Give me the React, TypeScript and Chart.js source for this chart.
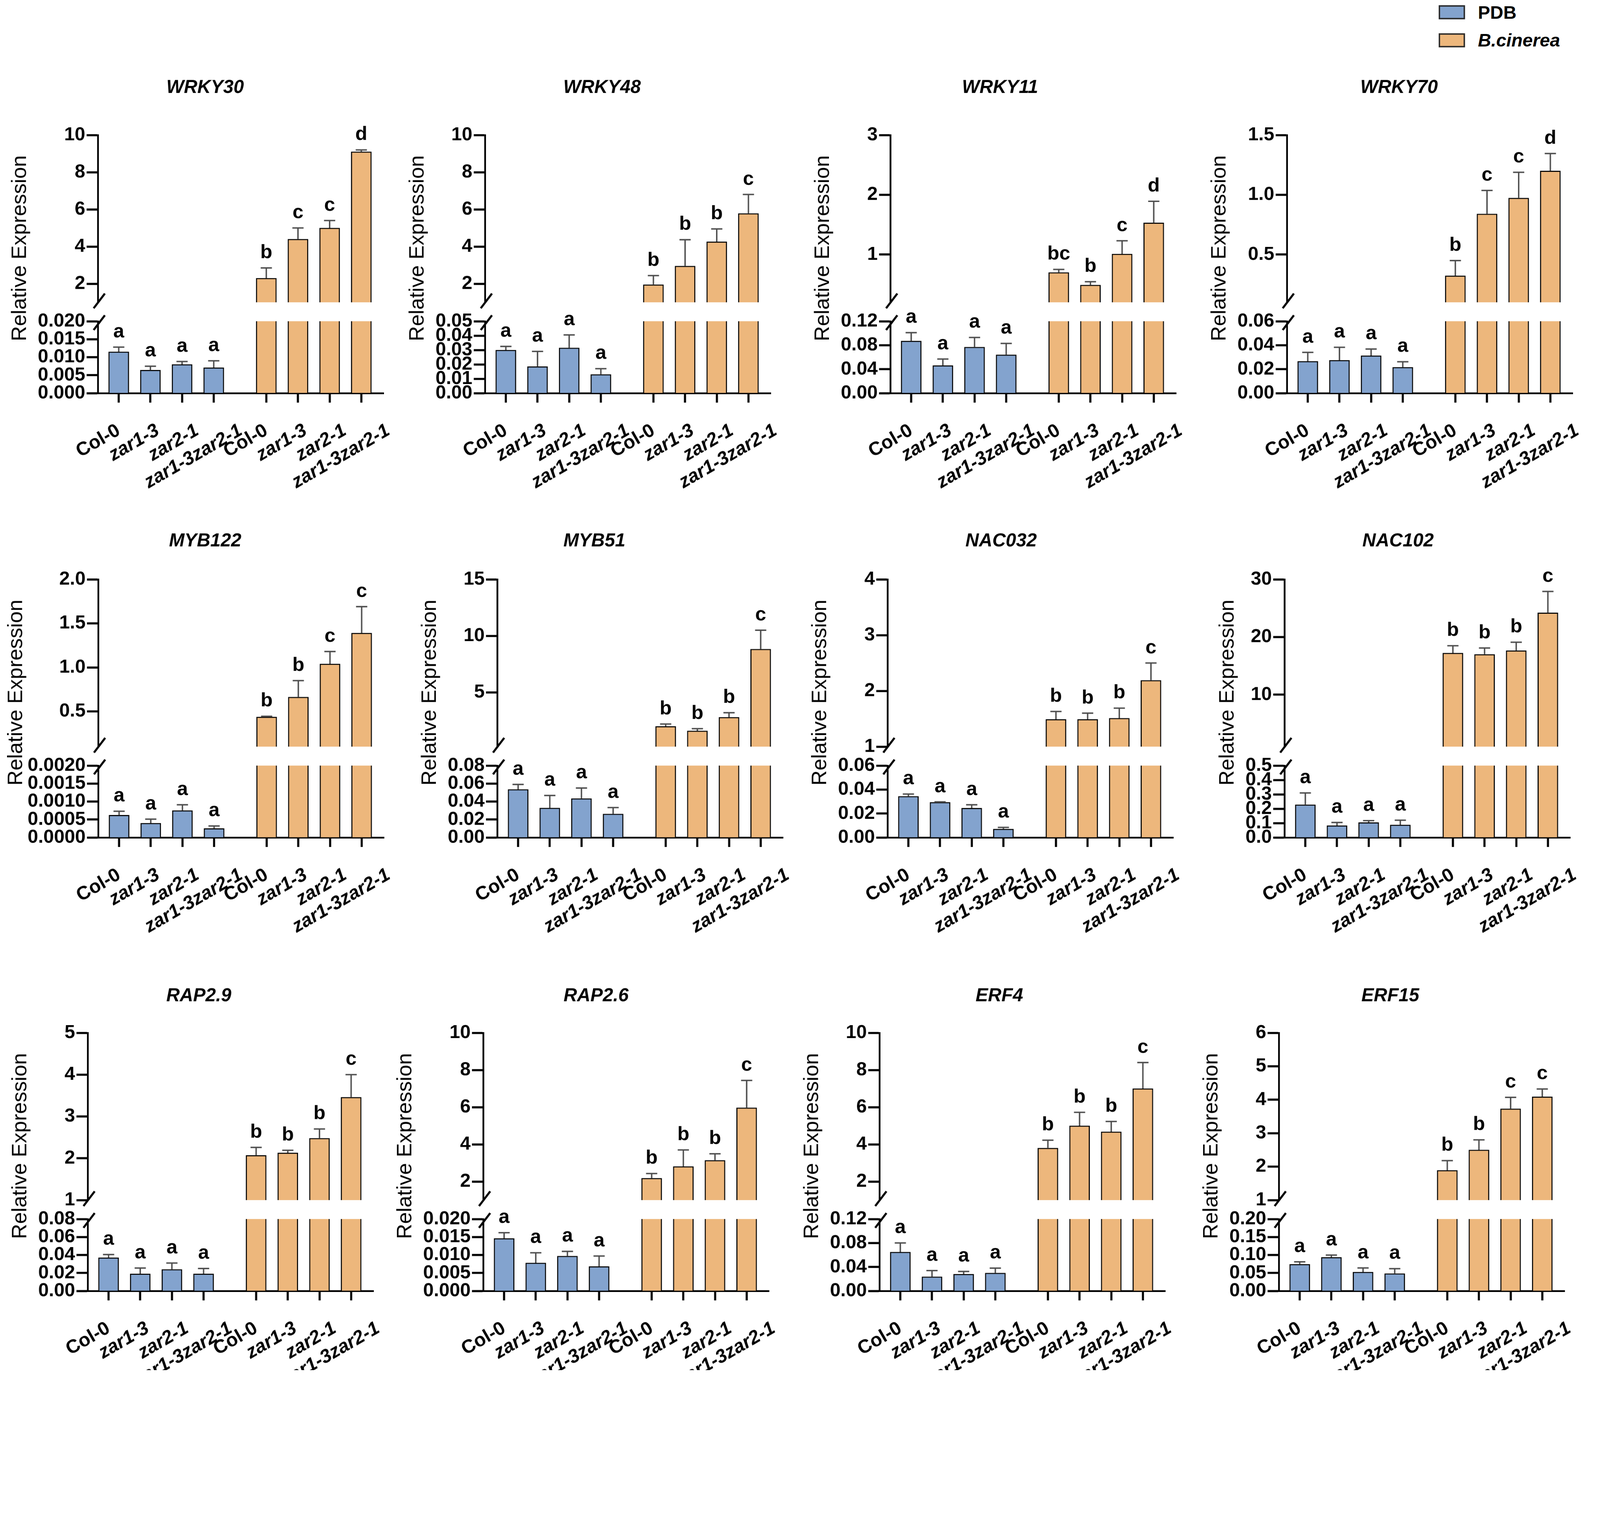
import React, { useEffect, useRef } from "react";
import { Chart, registerables } from "chart.js";

Chart.register(...registerables);

const FONT = '"Liberation Sans", Arial, Helvetica, sans-serif';

// ---------------- DATA ----------------
const GENES = ["WRKY30", "WRKY48", "WRKY11", "WRKY70", "MYB122", "MYB51", "NAC032", "NAC102", "RAP2.9", "RAP2.6", "ERF4", "ERF15"];
const CATEGORIES = ["Col-0", "zar1-3", "zar2-1", "zar1-3zar2-1"];
const SERIES = ["PDB", "B.cinerea"];

const PDB_MEAN = [
  [0.0115, 0.0064, 0.008, 0.0071],
  [0.03, 0.0185, 0.0315, 0.013],
  [0.087, 0.046, 0.077, 0.064],
  [0.0266, 0.0275, 0.0313, 0.0216],
  [0.00062, 0.0004, 0.00075, 0.00025],
  [0.0535, 0.0328, 0.0434, 0.0262],
  [0.0344, 0.0294, 0.0245, 0.0071],
  [0.228, 0.0825, 0.104, 0.0875],
  [0.037, 0.019, 0.024, 0.019],
  [0.0146, 0.0078, 0.0097, 0.0068],
  [0.065, 0.0237, 0.028, 0.03],
  [0.0743, 0.0935, 0.0526, 0.0483],
];
const PDB_SD = [
  [0.0013, 0.0011, 0.0008, 0.0019],
  [0.0025, 0.0105, 0.009, 0.004],
  [0.014, 0.011, 0.016, 0.019],
  [0.0074, 0.0108, 0.0055, 0.0046],
  [0.00011, 0.00011, 0.00016, 0.00007],
  [0.0055, 0.0139, 0.0116, 0.0071],
  [0.0018, 0.0003, 0.0028, 0.0013],
  [0.082, 0.0215, 0.013, 0.0325],
  [0.0035, 0.0065, 0.007, 0.006],
  [0.0016, 0.0028, 0.0013, 0.0029],
  [0.015, 0.0103, 0.0045, 0.008],
  [0.0067, 0.0062, 0.0112, 0.0137],
];
const BC_MEAN = [
  [2.3, 4.4, 5.0, 9.1],
  [1.95, 2.95, 4.26, 5.78],
  [0.7, 0.49, 1.01, 1.53],
  [0.322, 0.84, 0.973, 1.2],
  [0.437, 0.663, 1.04, 1.39],
  [2.0, 1.6, 2.8, 8.83],
  [1.49, 1.49, 1.51, 2.19],
  [17.23, 17.0, 17.65, 24.2],
  [2.07, 2.13, 2.48, 3.46],
  [2.18, 2.81, 3.14, 5.97],
  [3.8, 5.0, 4.68, 7.0],
  [1.89, 2.5, 3.73, 4.09],
];
const BC_SD = [
  [0.55, 0.6, 0.4, 0.1],
  [0.49, 1.42, 0.69, 1.02],
  [0.05, 0.055, 0.22, 0.36],
  [0.127, 0.196, 0.215, 0.145],
  [0.008, 0.187, 0.14, 0.3],
  [0.2, 0.19, 0.4, 1.67],
  [0.14, 0.11, 0.18, 0.31],
  [1.27, 1.1, 1.45, 3.7],
  [0.19, 0.06, 0.22, 0.54],
  [0.25, 0.89, 0.35, 1.47],
  [0.42, 0.72, 0.55, 1.4],
  [0.29, 0.3, 0.34, 0.23],
];
const PDB_LETTERS = [
  ["a", "a", "a", "a"], ["a", "a", "a", "a"], ["a", "a", "a", "a"], ["a", "a", "a", "a"],
  ["a", "a", "a", "a"], ["a", "a", "a", "a"], ["a", "a", "a", "a"], ["a", "a", "a", "a"],
  ["a", "a", "a", "a"], ["a", "a", "a", "a"], ["a", "a", "a", "a"], ["a", "a", "a", "a"],
];
const BC_LETTERS = [
  ["b", "c", "c", "d"],
  ["b", "b", "b", "c"],
  ["bc", "b", "c", "d"],
  ["b", "c", "c", "d"],
  ["b", "b", "c", "c"],
  ["b", "b", "b", "c"],
  ["b", "b", "b", "c"],
  ["b", "b", "b", "c"],
  ["b", "b", "b", "c"],
  ["b", "b", "b", "c"],
  ["b", "b", "b", "c"],
  ["b", "b", "c", "c"],
];
const UPPER_TICKS = [
  ["2", "4", "6", "8", "10"],
  ["2", "4", "6", "8", "10"],
  ["1", "2", "3"],
  ["0.5", "1.0", "1.5"],
  ["0.5", "1.0", "1.5", "2.0"],
  ["5", "10", "15"],
  ["1", "2", "3", "4"],
  ["10", "20", "30"],
  ["1", "2", "3", "4", "5"],
  ["2", "4", "6", "8", "10"],
  ["2", "4", "6", "8", "10"],
  ["1", "2", "3", "4", "5", "6"],
];
const UPPER_MIN = [1, 1, 0.2, 0.1, 0.1, 0.2, 1, 1, 1, 1, 1, 1];
const LOWER_TICKS = [
  ["0.000", "0.005", "0.010", "0.015", "0.020"],
  ["0.00", "0.01", "0.02", "0.03", "0.04", "0.05"],
  ["0.00", "0.04", "0.08", "0.12"],
  ["0.00", "0.02", "0.04", "0.06"],
  ["0.0000", "0.0005", "0.0010", "0.0015", "0.0020"],
  ["0.00", "0.02", "0.04", "0.06", "0.08"],
  ["0.00", "0.02", "0.04", "0.06"],
  ["0.0", "0.1", "0.2", "0.3", "0.4", "0.5"],
  ["0.00", "0.02", "0.04", "0.06", "0.08"],
  ["0.000", "0.005", "0.010", "0.015", "0.020"],
  ["0.00", "0.04", "0.08", "0.12"],
  ["0.00", "0.05", "0.10", "0.15", "0.20"],
];

// ---------------- LAYOUT / STYLE ----------------
const PAGE_W = 4563;
const PAGE_H = 3906;
const BLUE = "#83A3CE";
const ORANGE = "#EDB77C";
const ERR_COLOR = "#4d4d4d";
const AXIS_X = [
  [279, 1383, 2539, 3670],
  [280, 1418, 2531, 3663],
  [250, 1378, 2508, 3647],
];
const TITLE_X = [
  [585, 1717, 2852, 3990],
  [585, 1695, 2855, 3987],
  [567, 1700, 2850, 3965],
];
const ROW_PLOT_TOP = [385, 1652, 2945];
const ROW_TITLE_Y = [250, 1543, 2840];
const PLOT_W = 845;
const PLOT_H = 736;
const W_UPPER = 477;
const W_GAP = 54;
const W_LOWER = 205;
const Y_W = 300;
const X_H = 300;
const X_TICK_H = 30;
const RIGHT_PAD = 60;
const TITLE_PAD = 60;
const GROUP_GAP = 0.66;
const X_MIN = -0.66;
const X_MAX = 8.37;
const BAR_W = 58;
const LEGEND_TOP = [15, 95];
const TICK_FONT = 54;
const LABEL_SHIFT = [0, 22, 45, 80];

function pageScale() {
  if (typeof window === "undefined" || !window.innerWidth) return 1;
  return Math.min(window.innerWidth / PAGE_W, 1);
}

function xPos(group: number, i: number) {
  return group * (CATEGORIES.length + GROUP_GAP) + i;
}

function geom(idx: number) {
  const r = Math.floor(idx / 4);
  const c = idx % 4;
  const top = ROW_TITLE_Y[r] - TITLE_PAD;
  const topPad = ROW_PLOT_TOP[r] - top;
  const left = AXIS_X[r][c] - Y_W;
  const width = Y_W + PLOT_W + RIGHT_PAD;
  const height = topPad + PLOT_H + X_H;
  const titleX = TITLE_X[r][c] - left;
  return { left, top, width, height, topPad, titleX };
}

const clipPlugin = {
  id: "segmentClip",
  beforeDatasetDraw(chart: any, args: any) {
    const ys = args.meta.yScale;
    const ca = chart.chartArea;
    const ctx = chart.ctx;
    ctx.save();
    ctx.beginPath();
    ctx.rect(ca.left - 20, ys.top, ca.width + 40, ys.bottom - ys.top);
    ctx.clip();
  },
  afterDatasetDraw(chart: any) {
    chart.ctx.restore();
  },
};

function makeDecor(idx: number, titleX: number) {
  return {
    id: "decor",
    afterDraw(chart: any) {
      const ctx = chart.ctx;
      const ca = chart.chartArea;
      const yHigh = chart.scales.yHigh;
      const yLow = chart.scales.yLow;

      // error bars + significance letters
      chart.data.datasets.forEach((ds: any, di: number) => {
        if (!ds.errors) return;
        const meta = chart.getDatasetMeta(di);
        const ys = chart.scales[ds.yAxisID];
        meta.data.forEach((el: any, i: number) => {
          const v = ds.data[i].y;
          const e = ds.errors[i];
          const yTop = ys.getPixelForValue(v);
          const yErr = ys.getPixelForValue(v + e);
          ctx.save();
          ctx.strokeStyle = ERR_COLOR;
          ctx.lineWidth = 4;
          ctx.beginPath();
          ctx.moveTo(el.x, yTop);
          ctx.lineTo(el.x, yErr);
          ctx.moveTo(el.x - 16, yErr);
          ctx.lineTo(el.x + 16, yErr);
          ctx.stroke();
          ctx.fillStyle = "#000";
          ctx.font = `bold 56px ${FONT}`;
          ctx.textAlign = "center";
          ctx.textBaseline = "alphabetic";
          ctx.fillText(ds.letters[i], el.x, yErr - 28);
          ctx.restore();
        });
      });

      // axis break marks
      ctx.save();
      ctx.strokeStyle = "#000";
      ctx.lineWidth = 6;
      const bx = ca.left + 4;
      [yHigh.bottom - 4, yLow.top + 4].forEach((cy: number) => {
        ctx.beginPath();
        ctx.moveTo(bx - 16, cy + 21);
        ctx.lineTo(bx + 16, cy - 21);
        ctx.stroke();
      });
      ctx.restore();

      // y-axis title
      ctx.save();
      ctx.font = `bold ${TICK_FONT}px ${FONT}`;
      let maxW = 0;
      [...LOWER_TICKS[idx], ...UPPER_TICKS[idx]].forEach((t) => {
        maxW = Math.max(maxW, ctx.measureText(t).width);
      });
      const off = Math.min(36 + maxW + 50, 234);
      ctx.translate(ca.left - off, (ca.top + ca.bottom) / 2 - 45);
      ctx.rotate(-Math.PI / 2);
      ctx.font = `60px ${FONT}`;
      ctx.fillStyle = "#000";
      ctx.textAlign = "center";
      ctx.textBaseline = "middle";
      ctx.fillText("Relative Expression", 0, 0);
      ctx.restore();

      // gene title
      ctx.save();
      ctx.font = `italic bold 53px ${FONT}`;
      ctx.fillStyle = "#000";
      ctx.textAlign = "center";
      ctx.textBaseline = "middle";
      ctx.fillText(GENES[idx], titleX, TITLE_PAD);
      ctx.restore();
    },
  };
}

function yScale(ticks: string[], min: number, weight: number, stackWeight: number) {
  const max = parseFloat(ticks[ticks.length - 1]);
  return {
    type: "linear",
    position: "left",
    stack: "y",
    stackWeight,
    weight,
    min,
    max,
    z: 1,
    afterBuildTicks: (s: any) => {
      s.ticks = ticks.map((t) => ({ value: parseFloat(t) }));
    },
    afterFit: (s: any) => {
      s.width = Y_W;
    },
    grid: {
      display: true,
      drawOnChartArea: false,
      drawTicks: true,
      tickLength: 32,
      tickWidth: 6,
      tickColor: "#000",
      color: "#000",
    },
    border: { display: true, color: "#000", width: 5 },
    ticks: {
      color: "#000",
      padding: 4,
      autoSkip: false,
      font: { family: FONT, size: TICK_FONT, weight: "bold" },
      callback: (_v: any, i: number) => ticks[i],
    },
  };
}

function Panel({ idx, dpr }: { idx: number; dpr: number }) {
  const ref = useRef<HTMLCanvasElement>(null);
  const g = geom(idx);
  useEffect(() => {
    if (!ref.current) return;
    const xsA = CATEGORIES.map((_, i) => xPos(0, i));
    const xsB = CATEGORIES.map((_, i) => xPos(1, i));
    const allX = [...xsA, ...xsB];
    const pxPerUnit = PLOT_W / (X_MAX - X_MIN);
    const pdbData = PDB_MEAN[idx].map((v, i) => ({ x: xsA[i], y: v }));
    const bcData = BC_MEAN[idx].map((v, i) => ({ x: xsB[i], y: v }));
    const barStyle = {
      borderColor: "#000",
      borderWidth: 3,
      barThickness: BAR_W,
      grouped: false,
    };
    const chart = new Chart(ref.current, {
      type: "bar",
      data: {
        datasets: [
          { label: SERIES[0], data: pdbData, yAxisID: "yLow", xAxisID: "x", backgroundColor: BLUE, ...barStyle, errors: PDB_SD[idx], letters: PDB_LETTERS[idx] } as any,
          { label: SERIES[1], data: bcData, yAxisID: "yLow", xAxisID: "x", backgroundColor: ORANGE, ...barStyle } as any,
          { label: SERIES[1], data: bcData, yAxisID: "yHigh", xAxisID: "x", backgroundColor: ORANGE, ...barStyle, errors: BC_SD[idx], letters: BC_LETTERS[idx] } as any,
        ],
      },
      options: {
        responsive: false,
        maintainAspectRatio: false,
        animation: false,
        devicePixelRatio: dpr,
        events: [],
        layout: { padding: { top: g.topPad, left: 0, right: RIGHT_PAD, bottom: 0 } },
        plugins: { legend: { display: false }, tooltip: { enabled: false }, title: { display: false } },
        scales: {
          x: {
            type: "linear",
            position: "bottom",
            weight: 1,
            min: X_MIN,
            max: X_MAX,
            offset: false,
            z: 1,
            afterBuildTicks: (s: any) => {
              s.ticks = allX.map((v) => ({ value: v }));
            },
            afterFit: (s: any) => {
              s.height = X_TICK_H;
            },
            grid: {
              display: true,
              offset: false,
              drawOnChartArea: false,
              drawTicks: true,
              tickLength: 27,
              tickWidth: 6,
              tickColor: "#000",
              color: "#000",
            },
            border: { display: true, color: "#000", width: 5 },
            ticks: { display: false, autoSkip: false },
          },
          xLabels: {
            type: "linear",
            position: "bottom",
            weight: 2,
            min: X_MIN,
            max: X_MAX,
            offset: false,
            afterBuildTicks: (s: any) => {
              s.ticks = allX.map((v, i) => ({ value: v + LABEL_SHIFT[i % CATEGORIES.length] / pxPerUnit }));
            },
            afterFit: (s: any) => {
              s.height = X_H - X_TICK_H;
            },
            grid: { display: false, drawTicks: false, drawOnChartArea: false },
            border: { display: false },
            ticks: {
              autoSkip: false,
              minRotation: 30,
              maxRotation: 30,
              padding: 45,
              color: "#000",
              font: (ctx: any) => ({
                family: FONT,
                size: 54,
                weight: "bold",
                style: ctx.index % CATEGORIES.length === 0 ? "normal" : "italic",
              }),
              callback: (_v: any, i: number) => CATEGORIES[i % CATEGORIES.length],
            },
          },
          yLow: yScale(LOWER_TICKS[idx], 0, 1, W_LOWER),
          yGap: {
            type: "linear",
            position: "left",
            stack: "y",
            stackWeight: W_GAP,
            weight: 2,
            min: 0,
            max: 1,
            afterFit: (s: any) => {
              s.width = Y_W;
            },
            grid: { display: false },
            border: { display: false },
            ticks: { display: false },
          },
          yHigh: yScale(UPPER_TICKS[idx], UPPER_MIN[idx], 3, W_UPPER),
        } as any,
      },
      plugins: [clipPlugin, makeDecor(idx, g.titleX)],
    } as any);
    return () => chart.destroy();
  }, [idx, dpr]);
  return (
    <canvas
      ref={ref}
      width={g.width}
      height={g.height}
      style={{ position: "absolute", left: g.left, top: g.top, width: g.width, height: g.height }}
    />
  );
}

function Legend() {
  const colors = [BLUE, ORANGE];
  return (
    <>
      {SERIES.map((s, i) => (
        <div
          key={s}
          style={{ position: "absolute", left: 4103, top: LEGEND_TOP[i], height: 40, display: "flex", alignItems: "center" }}
        >
          <div style={{ width: 67, height: 32, background: colors[i], border: "4px solid #2b2b2b" }} />
          <span
            style={{
              marginLeft: 37,
              fontFamily: FONT,
              fontWeight: "bold",
              fontStyle: i === 1 ? "italic" : "normal",
              fontSize: 52,
              lineHeight: "40px",
              color: "#000",
            }}
          >
            {s}
          </span>
        </div>
      ))}
    </>
  );
}

export default function App() {
  const s = pageScale();
  const dpr = Math.max(1, s * ((typeof window !== "undefined" && window.devicePixelRatio) || 1));
  useEffect(() => {
    document.body.style.margin = "0";
    document.body.style.overflow = "hidden";
  }, []);
  return (
    <div
      style={{
        position: "absolute",
        left: 0,
        top: 0,
        width: PAGE_W,
        height: PAGE_H,
        overflow: "hidden",
        background: "#fff",
        transform: `scale(${s})`,
        transformOrigin: "0 0",
      }}
    >
      {GENES.map((g, i) => (
        <Panel key={g} idx={i} dpr={dpr} />
      ))}
      <Legend />
    </div>
  );
}
